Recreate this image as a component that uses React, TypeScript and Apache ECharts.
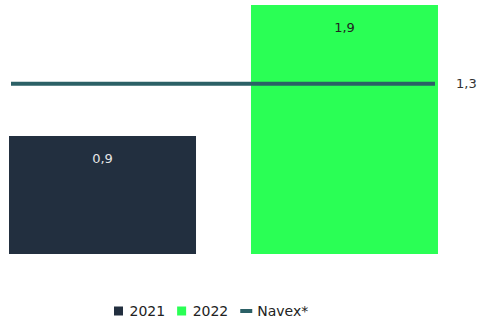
import React, { useEffect, useRef } from "react";
import * as echarts from "echarts";

const categories = ["Total"];
const values2021 = [0.9];
const values2022 = [1.9];
const navexValues = [1.3, 1.3];
const navexPoints = ["start", "end"];

const fmt = (v: number) => String(v).replace(".", ",");

export default function App() {
  const ref = useRef<HTMLDivElement>(null);
  useEffect(() => {
    if (!ref.current) return;
    const chart = echarts.init(ref.current, null, { renderer: "svg" });
    const font = "'DejaVu Sans', 'Noto Sans', sans-serif";
    chart.setOption({
      animation: false,
      textStyle: { fontFamily: font },
      legend: {
        bottom: 3,
        left: 109,
        itemWidth: 12,
        itemHeight: 9,
        itemGap: 12,
        textStyle: { fontSize: 14, color: "#222222", fontFamily: font },
        data: [
          { name: "2021", icon: "path://M0,0h9v9h-9z" },
          { name: "2022", icon: "path://M0,0h9v9h-9z" },
          { name: "Navex*", icon: "path://M0,0h12v4h-12z" },
        ],
      },
      grid: [
        { left: 0, right: 34, top: 5, bottom: 72, containLabel: false },
        { left: 11, right: 46, top: 5, bottom: 72, containLabel: false },
      ],
      xAxis: [
        { type: "category", data: categories, gridIndex: 0, show: false },
        { type: "category", data: navexPoints, gridIndex: 1, show: false, boundaryGap: false },
      ],
      yAxis: [
        { type: "value", min: 0, max: 1.9, gridIndex: 0, show: false },
        { type: "value", min: 0, max: 1.9, gridIndex: 1, show: false },
      ],
      series: [
        {
          name: "2021",
          type: "bar",
          data: values2021,
          barWidth: 187,
          barGap: "29.4%",
          itemStyle: { color: "#222f3f" },
          label: {
            show: true,
            position: "insideTop",
            distance: 16,
            color: "#e6e6e6",
            fontSize: 13,
            fontFamily: font,
            formatter: (p: any) => fmt(p.value),
          },
        },
        {
          name: "2022",
          type: "bar",
          data: values2022,
          barWidth: 187,
          itemStyle: { color: "#2aff55" },
          label: {
            show: true,
            position: "insideTop",
            distance: 16,
            color: "#222222",
            fontSize: 13,
            fontFamily: font,
            formatter: (p: any) => fmt(p.value),
          },
        },
        {
          name: "Navex*",
          type: "line",
          xAxisIndex: 1,
          yAxisIndex: 1,
          data: navexValues,
          symbol: "none",
          itemStyle: { color: "#2b6066" },
          lineStyle: { color: "#2b6066", width: 4, cap: "butt" },
          endLabel: {
            show: true,
            distance: 21,
            color: "#333333",
            fontSize: 13,
            fontFamily: font,
            formatter: (p: any) => fmt(p.value),
          },
        },
      ],
    });
    return () => chart.dispose();
  }, []);
  return <div ref={ref} style={{ width: 481, height: 326, position: "absolute", left: 0, top: 0 }} />;
}
